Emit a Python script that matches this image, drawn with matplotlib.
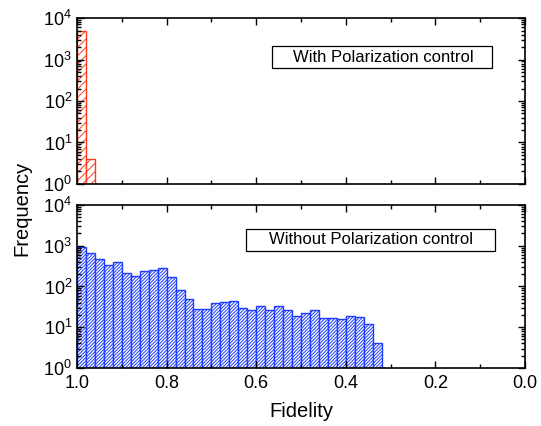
import numpy as np
import matplotlib
matplotlib.use("Agg")
import matplotlib.pyplot as plt
from matplotlib.patches import Rectangle
from matplotlib.ticker import MultipleLocator, LogLocator, NullFormatter

plt.rcParams['font.family'] = ['Liberation Sans', 'DejaVu Sans']
plt.rcParams['mathtext.fontset'] = 'custom'
plt.rcParams['mathtext.rm'] = 'Liberation Sans'
plt.rcParams['mathtext.it'] = 'Liberation Sans:italic'
plt.rcParams['hatch.linewidth'] = 0.7

# Data
bin_width = 0.02
with_pc_counts = [4996, 4]
without_pc_counts = [940, 665, 475, 337, 400, 214, 177, 240, 253, 278,
                     170, 84, 50, 28, 28, 39, 41, 44, 29, 26,
                     34, 26, 33, 26, 19, 22, 27, 17, 17, 16,
                     19, 18, 12, 4]
x_ticks = [1.0, 0.8, 0.6, 0.4, 0.2, 0.0]
x_tick_labels = ['1.0', '0.8', '0.6', '0.4', '0.2', '0.0']
labels = ['With Polarization control', 'Without Polarization control']

red = '#FF3A1A'
blue = '#1E3CFF'

fig = plt.figure(figsize=(5.41, 4.26), dpi=100)
ax1 = fig.add_axes([0.1423, 0.5681, 0.8281, 0.3896])
ax2 = fig.add_axes([0.1423, 0.1362, 0.8281, 0.3826])

def bars(ax, counts, color, hatch):
    ax.set_yscale('log')
    lefts = 1.0 - bin_width * np.arange(len(counts))
    ax.bar(lefts, counts, width=-bin_width, align='edge',
           facecolor='white', edgecolor=color, hatch=hatch, linewidth=1.0)

bars(ax1, with_pc_counts, red, '////')
bars(ax2, without_pc_counts, blue, '//////////')

for ax in (ax1, ax2):
    ax.set_ylim(1, 1e4)
    ax.set_xlim(1.0, 0.0)
    ax.set_xticks(x_ticks)
    ax.xaxis.set_minor_locator(MultipleLocator(0.1))
    ax.yaxis.set_major_locator(LogLocator(base=10, numticks=10))
    ax.yaxis.set_minor_locator(LogLocator(base=10, subs=np.arange(2, 10), numticks=20))
    ax.yaxis.set_minor_formatter(NullFormatter())
    ax.tick_params(which='both', direction='in', top=True, right=True, labelsize=13, width=1.0)
    ax.tick_params(which='major', length=5)
    ax.tick_params(which='minor', length=3)
    for s in ax.spines.values():
        s.set_linewidth(1.2)

ax1.set_xticklabels([])
ax2.set_xticklabels(x_tick_labels)
ax2.tick_params(axis='x', which='major', pad=5)
ax2.set_xlabel('Fidelity', fontsize=14.5, labelpad=7)
fig.text(0.04, 0.512, 'Frequency', rotation=90, fontsize=14.5, ha='center', va='center')

ax1.add_patch(Rectangle((0.435, 0.699), 0.491, 0.132, transform=ax1.transAxes,
                        facecolor='white', edgecolor='black', linewidth=0.9))
ax1.text(0.684, 0.765, labels[0], transform=ax1.transAxes, ha='center', va='center', fontsize=12)
ax2.add_patch(Rectangle((0.3766, 0.7196), 0.5565, 0.1332, transform=ax2.transAxes,
                        facecolor='white', edgecolor='black', linewidth=0.9))
ax2.text(0.657, 0.786, labels[1], transform=ax2.transAxes, ha='center', va='center', fontsize=12)

fig.savefig('out.png', dpi=100)
